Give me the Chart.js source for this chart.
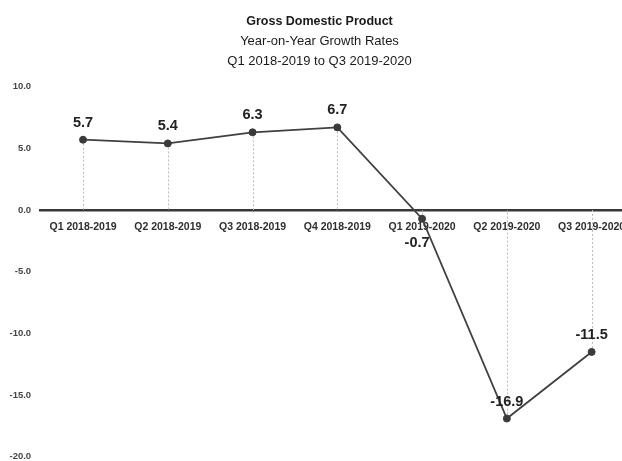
<!DOCTYPE html>
<html>
<head>
<meta charset="utf-8">
<script src="https://cdn.jsdelivr.net/npm/chart.js@4/dist/chart.umd.min.js"></script>
<style>
html,body{margin:0;padding:0;background:#fff;overflow:hidden;}
#wrap{width:639px;height:472px;}
</style>
</head>
<body>
<div id="wrap"><canvas id="c" width="639" height="472"></canvas></div>
<script>
const categories = ["Q1 2018-2019","Q2 2018-2019","Q3 2018-2019","Q4 2018-2019","Q1 2019-2020","Q2 2019-2020","Q3 2019-2020"];
const gdpGrowth = [5.7, 5.4, 6.3, 6.7, -0.7, -16.9, -11.5];
const yTicks = [10, 5, 0, -5, -10, -15, -20];
const titleText = "Gross Domestic Product";
const subtitleLines = ["Year-on-Year Growth Rates", "Q1 2018-2019 to Q3 2019-2020"];

const FONT = '"Liberation Sans", Arial, sans-serif';
const labelBelow = [false,false,false,false,true,false,false];

const dropLines = {
  id: 'dropLines',
  beforeDatasetsDraw(chart) {
    const {ctx} = chart;
    const meta = chart.getDatasetMeta(0);
    const y0 = chart.scales.y.getPixelForValue(0);
    ctx.save();
    ctx.strokeStyle = '#bdbdbd';
    ctx.lineWidth = 1;
    ctx.setLineDash([2,2]);
    meta.data.forEach(p => {
      ctx.beginPath();
      ctx.moveTo(Math.round(p.x)+0.5, p.y);
      ctx.lineTo(Math.round(p.x)+0.5, y0);
      ctx.stroke();
    });
    ctx.restore();
  }
};

const valueLabels = {
  id: 'valueLabels',
  afterDatasetsDraw(chart) {
    const {ctx} = chart;
    const meta = chart.getDatasetMeta(0);
    ctx.save();
    ctx.font = 'bold 14.5px ' + FONT;
    ctx.fillStyle = '#222';
    ctx.textAlign = 'center';
    ctx.textBaseline = 'middle';
    meta.data.forEach((p, i) => {
      const v = gdpGrowth[i];
      const dy = labelBelow[i] ? 24 : -17;
      const dx = labelBelow[i] ? -5 : 0;
      ctx.fillText(v.toFixed(1), p.x + dx, p.y + dy);
    });
    ctx.restore();
  }
};

new Chart(document.getElementById('c'), {
  type: 'line',
  data: {
    labels: categories,
    datasets: [{
      data: gdpGrowth,
      borderColor: '#404040',
      backgroundColor: '#404040',
      borderWidth: 1.8,
      pointRadius: 3.5,
      pointBorderWidth: 1,
      pointBackgroundColor: '#3a3a3a',
      pointBorderColor: '#3a3a3a',
      tension: 0
    }]
  },
  options: {
    responsive: false,
    animation: false,
    layout: { padding: { left: 0, right: 0, top: 0, bottom: 1 } },
    plugins: {
      legend: { display: false },
      tooltip: { enabled: false },
      title: {
        display: true,
        text: titleText,
        color: '#1a1a1a',
        font: { family: FONT, size: 12.5, weight: 'bold', lineHeight: 1.2 },
        padding: { top: 13.7, bottom: 2.25 }
      },
      subtitle: {
        display: true,
        text: subtitleLines,
        color: '#1a1a1a',
        font: { family: FONT, size: 13, weight: 'normal', lineHeight: 1.56 },
        padding: { top: 0, bottom: 15.15 }
      }
    },
    scales: {
      x: {
        type: 'category',
        position: { y: 0 },
        offset: true,
        grid: { display: false, drawTicks: false },
        border: { display: true, color: '#383838', width: 2.5 },
        ticks: {
          color: '#2e2e2e',
          font: { family: FONT, size: 10.5, weight: 'bold' },
          maxRotation: 0, autoSkip: false, padding: 10.5
        }
      },
      y: {
        min: -20, max: 10,
        afterBuildTicks(scale) { scale.ticks = yTicks.map(v => ({value: v})); },
        grid: { display: false, drawTicks: false },
        border: { display: false },
        ticks: {
          color: '#454545',
          font: { family: FONT, size: 9.5, weight: 'bold' },
          padding: 9.5,
          callback: v => Number(v).toFixed(1)
        }
      }
    }
  },
  plugins: [dropLines, valueLabels]
});
</script>
</body>
</html>
